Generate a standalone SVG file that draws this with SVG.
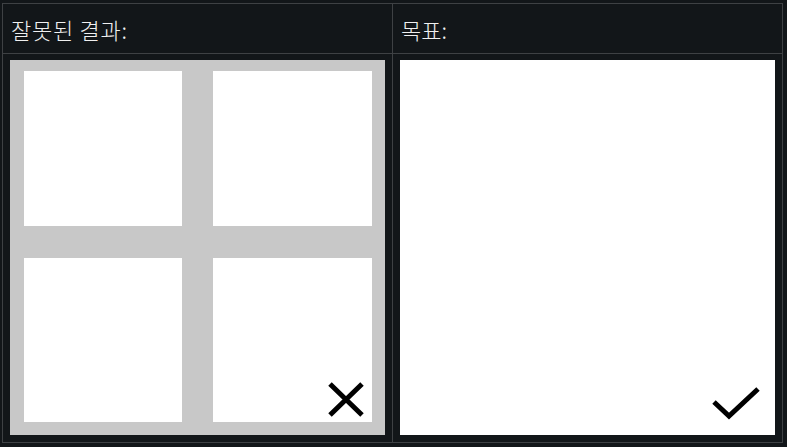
<svg xmlns="http://www.w3.org/2000/svg" width="787" height="447" viewBox="0 0 787 447">
  <style>
    .lbl { font-family: "Noto Sans CJK KR", "Noto Sans", sans-serif; font-size: 22px; font-weight: 300; fill: #f0f0f0; }
    .grid { stroke: #3e4144; stroke-width: 1; fill: none; }
    .sq { fill: #ffffff; }
    .icon { stroke: #000000; stroke-width: 5; fill: none; stroke-linecap: butt; }
  </style>
  <rect x="0" y="0" width="787" height="447" fill="#121619"/>
  <g id="table-lines">
    <rect class="grid" x="2.5" y="3.5" width="780" height="439"/>
    <line class="grid" x1="2.5" y1="53.5" x2="782.5" y2="53.5"/>
    <line class="grid" x1="392.5" y1="3.5" x2="392.5" y2="442.5"/>
  </g>
  <g id="header-wrong">
    <text class="lbl" x="11" y="39" textLength="116" lengthAdjust="spacing">잘못된 결과:</text>
  </g>
  <g id="header-goal">
    <text class="lbl" x="401" y="39">목표:</text>
  </g>
  <g id="wrong-result">
    <rect x="10" y="60" width="375" height="375" fill="#c8c8c8"/>
    <rect class="sq" x="24" y="71" width="158" height="155"/>
    <rect class="sq" x="213" y="71" width="159" height="155"/>
    <rect class="sq" x="24" y="258" width="158" height="164"/>
    <rect class="sq" x="213" y="258" width="159" height="164"/>
    <path class="icon" d="M330 384 L362 415 M362 384 L330 415"/>
  </g>
  <g id="goal">
    <rect class="sq" x="400" y="60" width="375" height="375"/>
    <path class="icon" d="M714 402 L729 416 L758 389"/>
  </g>
</svg>
